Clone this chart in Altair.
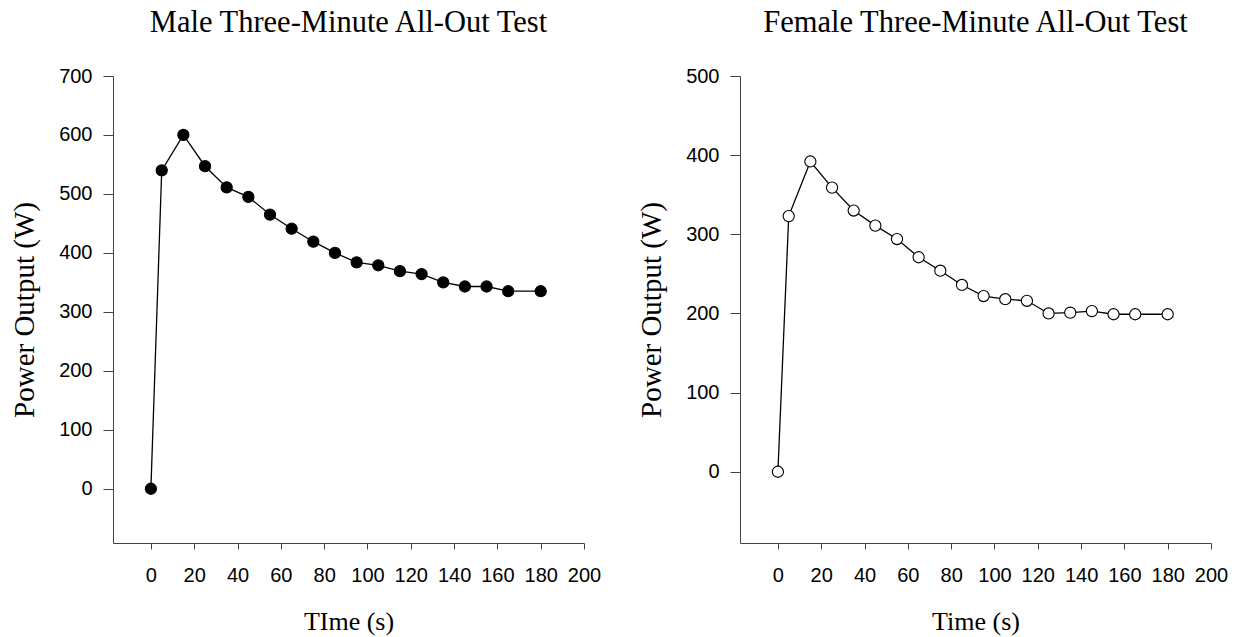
import altair as alt
import pandas as pd

time_s = [0, 5, 15, 25, 35, 45, 55, 65, 75, 85, 95, 105, 115, 125, 135, 145, 155, 165, 180]
male_w = [0, 540, 600, 547, 511, 495, 465, 441, 419, 400, 384, 379, 369, 364, 350, 343, 343, 335, 335]
female_w = [0, 323, 392, 359, 330, 311, 294, 271, 254, 236, 222, 218, 216, 200, 201, 203, 199, 199, 199]
x_ticks = list(range(0, 201, 20))
male_y_ticks = list(range(0, 701, 100))
female_y_ticks = list(range(0, 501, 100))

SERIF = "Liberation Serif"
SANS = "Liberation Sans"
AX = "#444444"


def panel(values, yticks, ymin, ymax, title, xtitle, filled, width):
    df = pd.DataFrame({"t": time_s, "p": values})
    x = alt.X(
        "t:Q",
        scale=alt.Scale(domain=[-17.5, 200], nice=False, zero=False),
        axis=alt.Axis(
            values=x_ticks, title=xtitle, grid=False, labelOverlap=False,
            labelFlush=False, labelBound=False,
            labelFont=SANS, labelFontSize=20, labelColor="black",
            tickSize=6, tickColor=AX, domainColor=AX, labelPadding=16,
            titleFont=SERIF, titleFontSize=26,
            titleFontWeight="normal", titleColor="black", titlePadding=23,
        ),
    )
    y = alt.Y(
        "p:Q",
        scale=alt.Scale(domain=[ymin, ymax], nice=False, zero=False),
        axis=alt.Axis(
            values=yticks, title="Power Output (W)", grid=False, labelOverlap=False,
            labelFlush=False, labelBound=False,
            labelFont=SANS, labelFontSize=20, labelColor="black",
            tickSize=10, tickColor=AX, domainColor=AX, labelPadding=11,
            titleFont=SERIF, titleFontSize=29, titleFontWeight="normal",
            titleColor="black", titlePadding=19,
        ),
    )
    line = alt.Chart(df).mark_line(color="black", strokeWidth=1.3).encode(x=x, y=y)
    pts = alt.Chart(df).mark_point(
        shape="circle", size=125, filled=True,
        fill="black" if filled else "white", stroke="black",
        strokeWidth=1.1, opacity=1,
    ).encode(x=x, y=y)
    return alt.layer(line, pts).properties(
        width=width, height=467,
        title=alt.TitleParams(
            text=title, font=SERIF, fontSize=30.5, fontWeight="normal",
            color="black", anchor="middle", offset=28,
        ),
    )


left = panel(male_w, male_y_ticks, -92, 700, "Male Three-Minute All-Out Test", "TIme (s)", True, 471)
right = panel(female_w, female_y_ticks, -90, 500, "Female Three-Minute All-Out Test", "Time (s)", False, 471)

chart = alt.hconcat(left, right, spacing=36).properties(
    padding={"left": 10, "top": 7, "right": 5, "bottom": 2},
    background="white",
).configure_view(strokeWidth=0, stroke="transparent")

chart.save("out.html", embed_options={"renderer": "svg", "actions": False})
